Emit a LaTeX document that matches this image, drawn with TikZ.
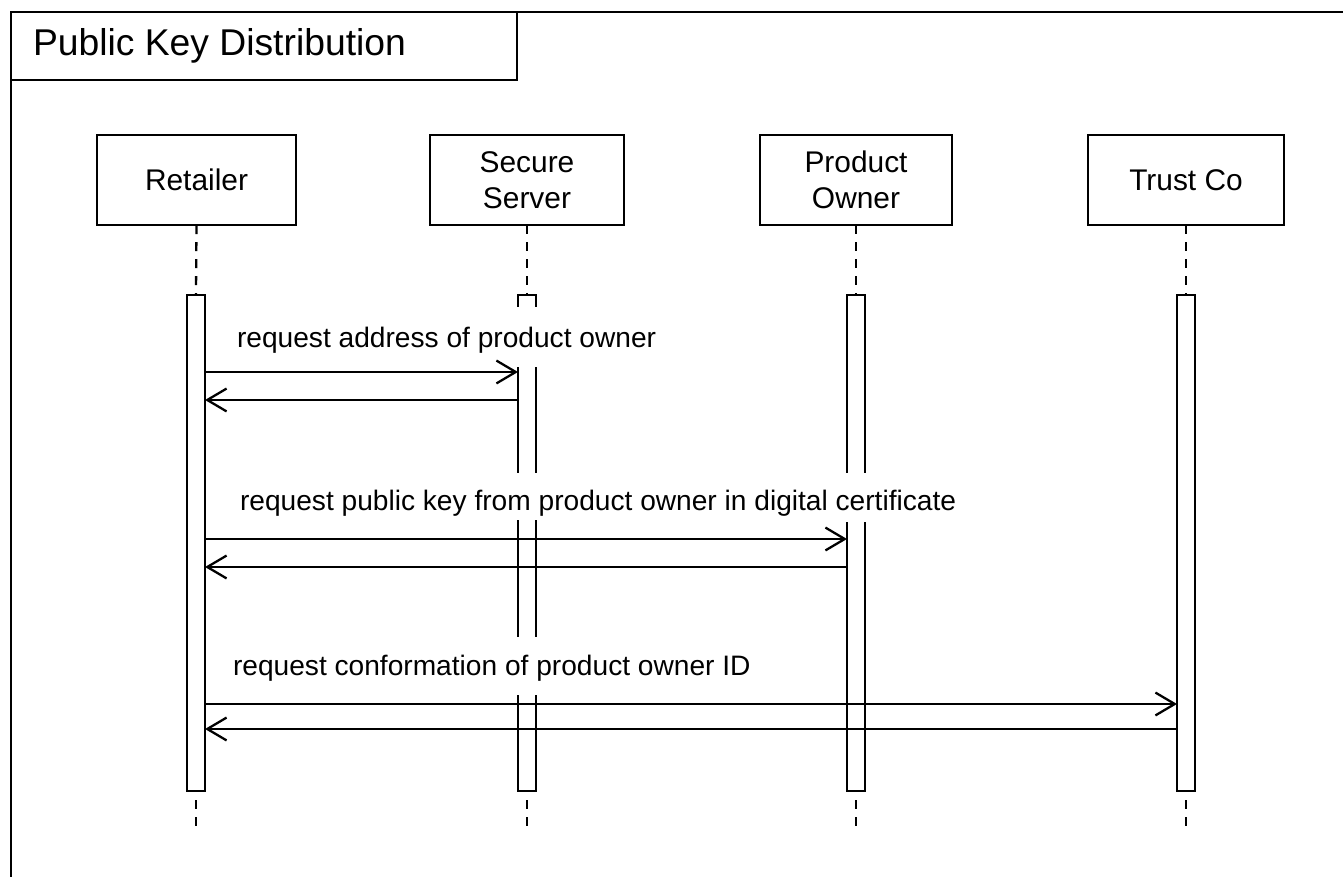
\documentclass[tikz,border=0pt]{standalone}
\usepackage{fontspec}
\setmainfont{Liberation Sans}
\usetikzlibrary{arrows.meta}
\begin{document}
\begin{tikzpicture}[x=0.01cm,y=-0.01cm,
  every node/.style={inner sep=0pt, outer sep=0pt},
  frame/.style={line width=0.7pt},
  lbox/.style={draw, line width=0.65pt, minimum height=0.9cm, align=center,
    font=\fontsize{8.5}{10.2}\selectfont},
  bar/.style={draw, line width=0.65pt, minimum width=0.18cm, minimum height=4.96cm},
  life/.style={line width=0.65pt, dash pattern=on 2.56pt off 2.28pt},
  lifeend/.style={life, dash phase=2.28pt},
  msg/.style={line width=0.65pt, -{Straight Barb[length=5.5pt,width=6.5pt]}},
  mlabel/.style={anchor=west, font=\fontsize{8}{9.6}\selectfont},
  gap/.style={fill=white}
]
\useasboundingbox (0,0) rectangle (1343,877);
% outer frame and title
\draw[frame] (11,877) -- (11,12) -- (1343,12);
\draw[frame] (11,12) rectangle (517,80);
\node[anchor=west, font=\fontsize{10.6}{12.7}\selectfont] (title) at (33,46) {Public Key Distribution};

% lifeline heads
\node[lbox, minimum width=1.99cm] (ret) at (196.5,180) {Retailer};
\node[lbox, minimum width=1.94cm] (sec) at (527,180) {Secure\\Server};
\node[lbox, minimum width=1.92cm] (own) at (856,180) {Product\\Owner};
\node[lbox, minimum width=1.96cm] (tru) at (1186,180) {Trust Co};

% activation bars
\node[bar] (rbar) at (196,543) {};
\node[bar] (sbar) at (527,543) {};
\node[bar] (obar) at (856,543) {};
\node[bar] (tbar) at (1186,543) {};

% lifelines
\coordinate (rend) at (196,827);
\coordinate (send) at (527,827);
\coordinate (oend) at (856,827);
\coordinate (tend) at (1186,827);
\draw[life] (ret.south) -- (rbar.north);
\draw[life] (sec.south) -- (sbar.north);
\draw[life] (own.south) -- (obar.north);
\draw[life] (tru.south) -- (tbar.north);
\draw[lifeend] (rbar.south) -- (rend);
\draw[lifeend] (sbar.south) -- (send);
\draw[lifeend] (obar.south) -- (oend);
\draw[lifeend] (tbar.south) -- (tend);

% gaps in bars behind labels
\fill[gap] (514,307) rectangle (540,367);
\fill[gap] (514,473) rectangle (540,520);
\fill[gap] (514,637) rectangle (540,695);
\fill[gap] (844,473) rectangle (869,522);

% labels
\node[mlabel] (l1) at (237,340) {request address of product owner};
\node[mlabel] (l2) at (240,503) {request public key from product owner in digital certificate};
\node[mlabel] (l3) at (233,668) {request conformation of product owner ID};

% message levels
\coordinate (y1) at (0,372);
\coordinate (y2) at (0,400);
\coordinate (y3) at (0,539);
\coordinate (y4) at (0,567);
\coordinate (y5) at (0,704);
\coordinate (y6) at (0,729);

\draw[msg] (rbar.east |- y1) -- (sbar.west |- y1);
\draw[msg] (sbar.west |- y2) -- (rbar.east |- y2);
\draw[msg] (rbar.east |- y3) -- (obar.west |- y3);
\draw[msg] (obar.west |- y4) -- (rbar.east |- y4);
\draw[msg] (rbar.east |- y5) -- (tbar.west |- y5);
\draw[msg] (tbar.west |- y6) -- (rbar.east |- y6);
\end{tikzpicture}
\end{document}
